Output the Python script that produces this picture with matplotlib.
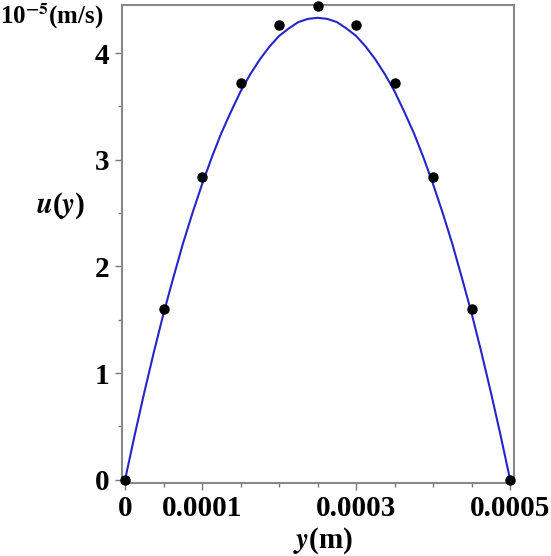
import matplotlib
matplotlib.use('Agg')
import matplotlib.pyplot as plt
from matplotlib.ticker import MultipleLocator, FixedFormatter, FixedLocator

# measured points (dots)
y_pts = [0, 0.00005, 0.0001, 0.00015, 0.0002, 0.00025, 0.0003, 0.00035, 0.0004, 0.00045, 0.0005]
u_pts = [0, 1.60, 2.84, 3.72, 4.26, 4.44, 4.26, 3.72, 2.84, 1.60, 0]

# fitted curve, read every 0.0000125 m
y_curve = [i * 0.0000125 for i in range(41)]
u_half = [0, 0.42, 0.82, 1.20, 1.56, 1.89, 2.21, 2.50, 2.77, 3.02, 3.25,
          3.45, 3.64, 3.80, 3.94, 4.06, 4.16, 4.23, 4.29, 4.32, 4.33]
u_curve = u_half + u_half[-2::-1]

x_ticks = [0, 0.0001, 0.0003, 0.0005]
x_labels = ['0', '0.0001', '0.0003', '0.0005']

plt.rcParams['font.family'] = ['Liberation Serif', 'DejaVu Serif']
plt.rcParams['mathtext.fontset'] = 'stix'

fig = plt.figure(figsize=(5.51, 5.56), dpi=100)
ax = fig.add_axes([0.2214, 0.1313, 0.7114, 0.8597])

ax.plot(y_curve, u_curve, color='#2626c8', lw=1.5, zorder=2)
ax.plot(y_pts, u_pts, 'o', color='black', ms=6.5, zorder=3, clip_on=False)

ax.set_xlim(-0.000004, 0.000505)
ax.set_ylim(-0.03, 4.45)

ax.xaxis.set_major_locator(FixedLocator(x_ticks))
ax.xaxis.set_major_formatter(FixedFormatter(x_labels))
ax.xaxis.set_minor_locator(MultipleLocator(0.00005))
ax.yaxis.set_major_locator(MultipleLocator(1))
ax.yaxis.set_minor_locator(MultipleLocator(0.5))

ax.tick_params(which='major', length=5, width=1, color='#777777', labelsize=21, pad=4)
ax.tick_params(which='minor', length=3, width=1, color='#777777')
for lab in ax.get_xticklabels() + ax.get_yticklabels():
    lab.set_fontweight('bold')

for s in ax.spines.values():
    s.set_color('#888888')
    s.set_linewidth(1.5)

fig.text(0.0, 0.997, r'10$^{\mathbf{-5}}$(m/s)', fontsize=18, fontweight='bold', va='top', ha='left')
fig.text(0.111, 0.63, r'$\boldsymbol{u}$($\boldsymbol{y}$)', fontsize=21, fontweight='bold', va='center', ha='center')
fig.text(0.586, 0.0, r'$\boldsymbol{y}$(m)', fontsize=21, fontweight='bold', va='bottom', ha='center')

fig.savefig('out.png', dpi=100)
